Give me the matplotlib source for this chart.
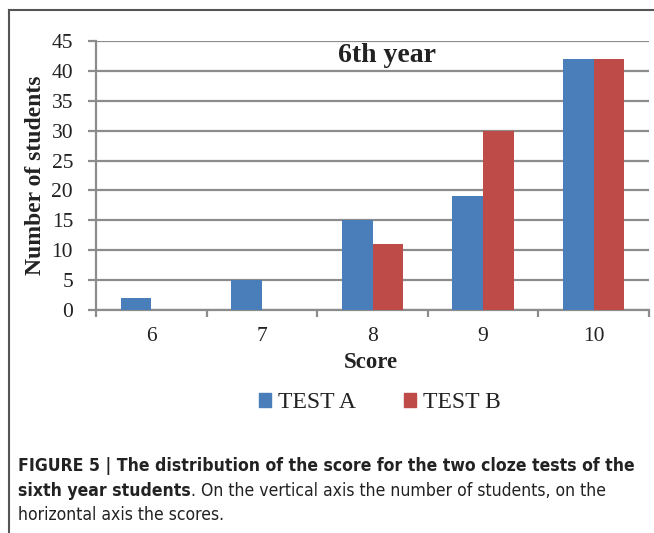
import matplotlib
matplotlib.use("Agg")
import matplotlib.pyplot as plt
import numpy as np
from matplotlib.lines import Line2D
from matplotlib.patches import Patch

# ---- data ----
scores = ["6", "7", "8", "9", "10"]
test_a = [2, 5, 15, 19, 42]
test_b = [0, 0, 11, 30, 42]
series_names = ["TEST A", "TEST B"]
y_ticks = [0, 5, 10, 15, 20, 25, 30, 35, 40, 45]
title = "6th year"
xlabel = "Score"
ylabel = "Number of students"

W, H = 654, 533
DPI = 100
fig = plt.figure(figsize=(W / DPI, H / DPI), dpi=DPI)
fig.patch.set_facecolor("white")

def fx(px):
    return px / W

def fy(py):
    return 1 - py / H

serif = ["Liberation Serif", "DejaVu Serif"]
blue = "#4A7EBB"
red = "#BE4B48"
grid_c = "#8C8C8C"
txt_c = "#222222"

ax = fig.add_axes([fx(96), fy(310), fx(649) - fx(96), fy(41) - fy(310)])
x = np.arange(len(scores))
w = 0.278
ax.bar(x - w / 2, test_a, width=w, color=blue, label=series_names[0], zorder=3)
ax.bar(x + w / 2, test_b, width=w, color=red, label=series_names[1], zorder=3)

ax.set_xlim(-0.5, len(scores) - 0.5)
ax.set_ylim(0, 45)
ax.set_yticks(y_ticks)
ax.set_yticklabels([str(v) for v in y_ticks], fontfamily=serif, fontsize=15.5, color=txt_c)
ax.yaxis.grid(True, color=grid_c, linewidth=1.6, zorder=0)
ax.set_axisbelow(True)

ax.set_xticks(x)
ax.set_xticklabels(scores, fontfamily=serif, fontsize=15.5, color=txt_c)
ax.tick_params(axis="x", which="major", length=0, pad=12)
ax.set_xticks(np.arange(-0.5, len(scores)), minor=True)
ax.tick_params(axis="x", which="minor", length=5, width=1.6, color=grid_c, direction="out")
ax.tick_params(axis="y", which="major", length=6, width=1.6, color=grid_c, direction="out", pad=10.5)

for s in ["top", "right"]:
    ax.spines[s].set_visible(False)
for s in ["left", "bottom"]:
    ax.spines[s].set_color(grid_c)
    ax.spines[s].set_linewidth(1.6)

fig.text(fx(387), fy(55), title, fontfamily=serif, fontweight="bold", fontsize=20,
         ha="center", va="center", color=txt_c)
fig.text(fx(36), fy(175), ylabel, fontfamily=serif, fontweight="bold", fontsize=17,
         ha="center", va="center", rotation=90, color=txt_c)
fig.text(fx(371), fy(362), xlabel, fontfamily=serif, fontweight="bold", fontsize=16.5,
         ha="center", va="center", color=txt_c)

handles = [Patch(color=blue), Patch(color=red)]
fig.legend(handles, series_names, loc="center", bbox_to_anchor=(fx(380), fy(403)),
           ncol=2, frameon=False, prop={"family": serif, "size": 17},
           handlelength=0.5, handleheight=0.5, handletextpad=0.3, columnspacing=2.05,
           labelcolor=txt_c)

# frame lines
fig.add_artist(Line2D([fx(9), 1.0], [fy(10), fy(10)], color="#555555", linewidth=1.5,
                      transform=fig.transFigure))
fig.add_artist(Line2D([fx(9), fx(9)], [fy(10), 0.0], color="#555555", linewidth=1.5,
                      transform=fig.transFigure))

# caption
sans = ["DejaVu Sans"]
cap_c = "#222222"
line1 = "FIGURE 5 | The distribution of the score for the two cloze tests of the"
line2b = "sixth year students"
line2r = ". On the vertical axis the number of students, on the"
line3 = "horizontal axis the scores."

fs = 13
t1 = fig.text(fx(18), fy(471), line1, fontfamily=sans, fontstretch="condensed",
              fontweight="bold", fontsize=fs, ha="left", va="baseline", color=cap_c)
fig.canvas.draw()
r = fig.canvas.get_renderer()
wpx = t1.get_window_extent(r).width
fs = fs * 615.0 / wpx
t1.set_fontsize(fs)

t2 = fig.text(fx(18), fy(496), line2b, fontfamily=sans, fontstretch="condensed",
              fontweight="bold", fontsize=fs, ha="left", va="baseline", color=cap_c)
fig.canvas.draw()
bb = t2.get_window_extent(r)
fig.text(bb.x1 / W, fy(496), line2r, fontfamily=sans, fontstretch="condensed", fontsize=fs,
         ha="left", va="baseline", color=cap_c)
fig.text(fx(18), fy(520), line3, fontfamily=sans, fontstretch="condensed", fontsize=fs,
         ha="left", va="baseline", color=cap_c)

fig.savefig("out.png", dpi=DPI)
